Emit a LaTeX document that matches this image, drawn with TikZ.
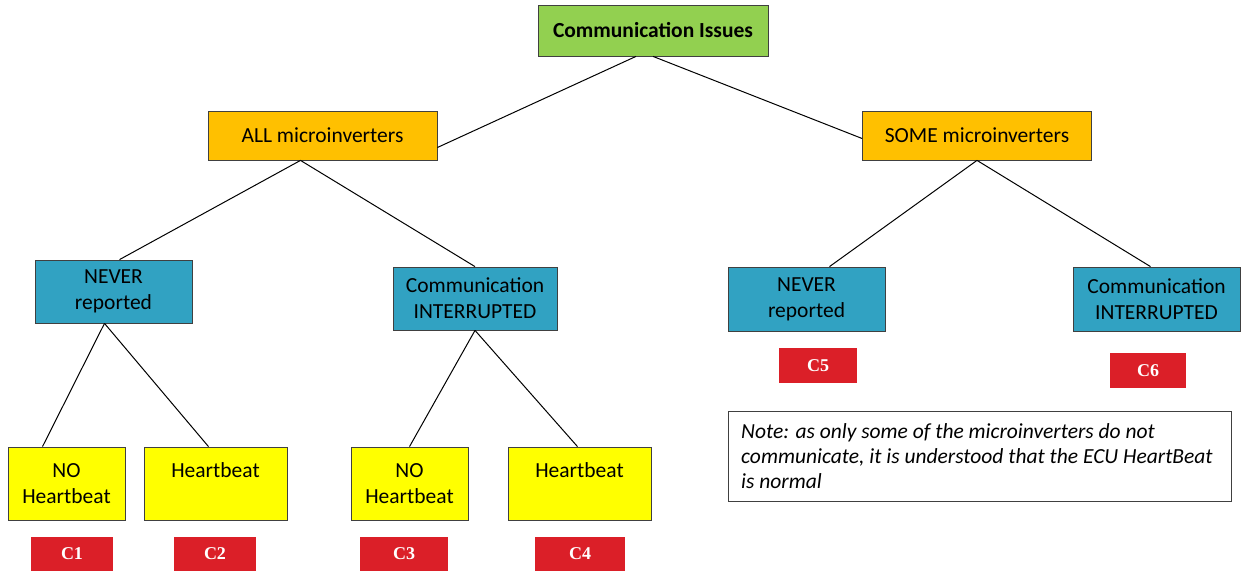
\documentclass[tikz,border=0pt]{standalone}
\usepackage{fontspec}
\setmainfont{Carlito}
\newfontfamily\timesfont{Liberation Serif}
\definecolor{topgreen}{HTML}{92D050}
\definecolor{midorange}{HTML}{FFC000}
\definecolor{teal}{HTML}{31A2C2}
\definecolor{leafyellow}{HTML}{FFFF00}
\definecolor{casered}{HTML}{DB1F28}
\definecolor{edgegray}{HTML}{404040}
\tikzset{
  basebox/.style={draw=edgegray, line width=0.8pt, inner sep=0pt, align=center, font=\fontsize{21.5}{26}\selectfont},
  topbox/.style={basebox, fill=topgreen, minimum width=230, minimum height=51, font=\fontsize{21.5}{26}\selectfont\bfseries},
  orangebox/.style={basebox, fill=midorange, minimum width=229, minimum height=49},
  tealbox/.style={basebox, fill=teal, minimum height=64},
  yellowbox/.style={basebox, fill=leafyellow, minimum height=73},
  casebox/.style={fill=casered, text=white, inner sep=0pt, minimum height=34, font=\fontsize{18}{20}\selectfont\timesfont\bfseries},
  notebox/.style={draw=edgegray, line width=0.8pt, fill=white, minimum width=503, minimum height=90, inner sep=0pt},
  link/.style={draw=black, line width=1pt}
}
\begin{document}
\begin{tikzpicture}[x=1pt,y=-1pt]
\useasboundingbox (0,0) rectangle (1245,571);
% level 0
\node[topbox] (top) at (653,30.5) {Communication Issues};
% level 1
\node[orangebox] (all) at (322.5,135.5) {ALL microinverters};
\node[orangebox] (some) at (977,135.5) {SOME microinverters};
% level 2
\node[tealbox, minimum width=157, minimum height=63] (nevL) at (113.5,291.5) {NEVER\\reported};
\node[tealbox, minimum width=164, minimum height=63] (intM) at (475,298.5) {Communication\\INTERRUPTED};
\node[tealbox, minimum width=157] (nevR) at (806.5,299) {NEVER\\reported};
\node[tealbox, minimum width=167] (intR) at (1156.5,299) {Communication\\INTERRUPTED};
% level 3
\node[yellowbox, minimum width=117] (noA) at (66.5,483.5) {NO\\Heartbeat};
\node[yellowbox, minimum width=143] (hbA) at (215.5,483.5) {Heartbeat\\\mbox{}};
\node[yellowbox, minimum width=117] (noB) at (409.5,483.5) {NO\\Heartbeat};
\node[yellowbox, minimum width=143] (hbB) at (579.5,483.5) {Heartbeat\\\mbox{}};
% cases
\node[casebox, minimum width=82] (c1) at (72,553.5) {C1};
\node[casebox, minimum width=82] (c2) at (215,553.5) {C2};
\node[casebox, minimum width=88] (c3) at (404,553.5) {C3};
\node[casebox, minimum width=90] (c4) at (580,553.5) {C4};
\node[casebox, minimum width=78, minimum height=35] (c5) at (818,365.5) {C5};
\node[casebox, minimum width=76, minimum height=35] (c6) at (1148,370.5) {C6};
% note
\node[notebox] (note) at (979.5,456) {};
\node[anchor=north west, align=left, inner sep=0pt, font=\fontsize{21.5}{25}\selectfont\itshape] (notetext) at (741,423)
  {Note: as only some of the microinverters do not\\communicate, it is understood that the ECU HeartBeat\\is normal};
% connectors
\draw[link] ([xshift=-17]top.south) -- ([yshift=-12]all.east);
\draw[link] ([xshift=0]top.south) -- ([yshift=-3]some.west);
\draw[link] ([xshift=-22]all.south) -- ([xshift=6]nevL.north);
\draw[link] ([xshift=-22]all.south) -- (intM.north);
\draw[link] (some.south) -- ([xshift=23]nevR.north);
\draw[link] (some.south) -- ([xshift=-6]intR.north);
\draw[link] ([xshift=-9]nevL.south) -- ([xshift=-24]noA.north);
\draw[link] ([xshift=-9]nevL.south) -- ([xshift=-7]hbA.north);
\draw[link] (intM.south) -- ([xshift=0]noB.north);
\draw[link] (intM.south) -- ([xshift=-2]hbB.north);
\end{tikzpicture}
\end{document}
